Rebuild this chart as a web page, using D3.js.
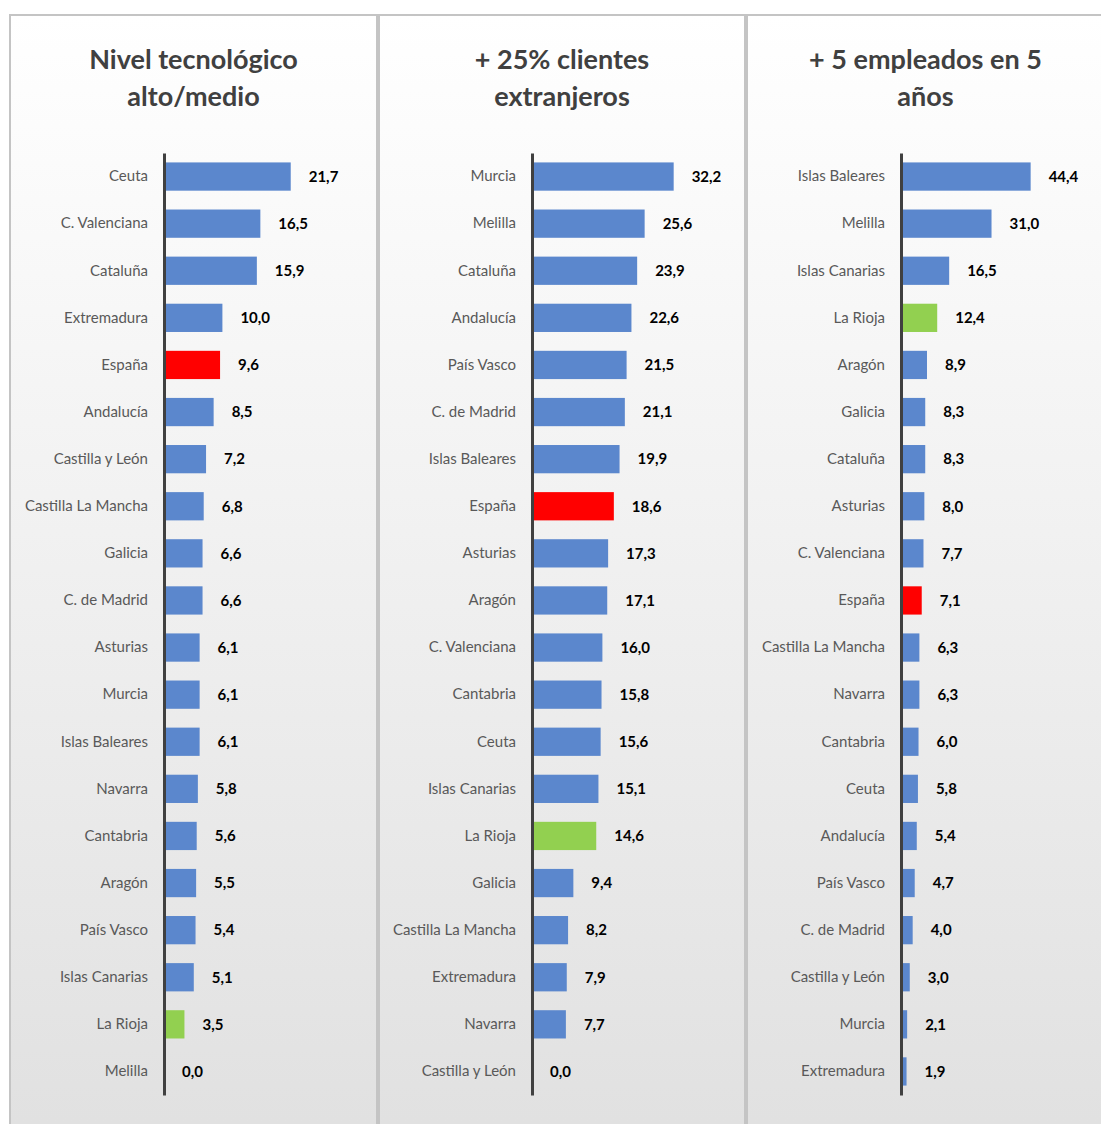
<!DOCTYPE html>
<html><head><meta charset="utf-8">
<script src="https://cdn.jsdelivr.net/npm/d3@7/dist/d3.min.js"></script>
<style>body{margin:0;background:#fff}svg{display:block}</style>
</head><body>
<script>
const titles1 = ["Nivel tecnológico", "alto/medio"];
const cats1 = ["Ceuta","C. Valenciana","Cataluña","Extremadura","España","Andalucía","Castilla y León","Castilla La Mancha","Galicia","C. de Madrid","Asturias","Murcia","Islas Baleares","Navarra","Cantabria","Aragón","País Vasco","Islas Canarias","La Rioja","Melilla"];
const vals1 = [21.7,16.5,15.9,10.0,9.6,8.5,7.2,6.8,6.6,6.6,6.1,6.1,6.1,5.8,5.6,5.5,5.4,5.1,3.5,0.0];

const titles2 = ["+ 25% clientes", "extranjeros"];
const cats2 = ["Murcia","Melilla","Cataluña","Andalucía","País Vasco","C. de Madrid","Islas Baleares","España","Asturias","Aragón","C. Valenciana","Cantabria","Ceuta","Islas Canarias","La Rioja","Galicia","Castilla La Mancha","Extremadura","Navarra","Castilla y León"];
const vals2 = [32.2,25.6,23.9,22.6,21.5,21.1,19.9,18.6,17.3,17.1,16.0,15.8,15.6,15.1,14.6,9.4,8.2,7.9,7.7,0.0];

const titles3 = ["+ 5 empleados en 5", "años"];
const cats3 = ["Islas Baleares","Melilla","Islas Canarias","La Rioja","Aragón","Galicia","Cataluña","Asturias","C. Valenciana","España","Castilla La Mancha","Navarra","Cantabria","Ceuta","Andalucía","País Vasco","C. de Madrid","Castilla y León","Murcia","Extremadura"];
const vals3 = [44.4,31.0,16.5,12.4,8.9,8.3,8.3,8.0,7.7,7.1,6.3,6.3,6.0,5.8,5.4,4.7,4.0,3.0,2.1,1.9];

const W = 1101, H = 1124;
const svg = d3.select("body").append("svg").attr("width", W).attr("height", H);
const defs = svg.append("defs");
const grad = defs.append("linearGradient").attr("id","bg").attr("x1",0).attr("y1",0).attr("x2",0).attr("y2",1);
grad.append("stop").attr("offset","0%").attr("stop-color","#ffffff");
grad.append("stop").attr("offset","100%").attr("stop-color","#e0e0e0");

const panels = [
  {titles: titles1, cats: cats1, vals: vals1, x0: 10, x1: 377, axisX: 164, max: 25, width: 146},
  {titles: titles2, cats: cats2, vals: vals2, x0: 379, x1: 745, axisX: 532, max: 35, width: 154},
  {titles: titles3, cats: cats3, vals: vals3, x0: 747, x1: 1104, axisX: 901, max: 50, width: 146}
];

const fontFam = "Lato, 'Open Sans', sans-serif";

function colorFor(c){
  if (c === "España") return "#ff0000";
  if (c === "La Rioja") return "#92d050";
  return "#5b87cd";
}
function fmt(v){ return d3.format(".1f")(v).replace(".", ","); }

panels.forEach(p => {
  const g = svg.append("g");
  g.append("rect").attr("x", p.x0).attr("y", 15).attr("width", p.x1 - p.x0).attr("height", H + 20)
    .attr("fill", "url(#bg)").attr("stroke", "#c4c4c4").attr("stroke-width", 2);

  const cx = (p.x0 + p.x1) / 2;
  const tt = g.append("text").attr("text-anchor","middle").attr("font-family", fontFam)
    .attr("font-weight","bold").attr("font-size", 27).attr("fill","#404040");
  p.titles.forEach((t,i) => tt.append("tspan").attr("x", cx).attr("y", 69 + i*37).text(t));

  const y = d3.scaleBand().domain(p.cats).range([153, 1095]).paddingInner(0.4).paddingOuter(0.2);
  const x = d3.scaleLinear().domain([0, p.max]).range([p.axisX, p.axisX + p.width]);

  g.selectAll("rect.bar").data(p.cats).enter().append("rect").attr("class","bar")
    .attr("x", x(0) + 1).attr("y", d => y(d))
    .attr("width", (d,i) => Math.max(0, x(p.vals[i]) - x(0) - 1))
    .attr("height", y.bandwidth())
    .attr("fill", d => colorFor(d));

  g.selectAll("text.val").data(p.cats).enter().append("text").attr("class","val")
    .attr("x", (d,i) => x(p.vals[i]) + 18).attr("y", d => y(d) + y.bandwidth()/2)
    .attr("dy","0.35em").attr("font-family", fontFam).attr("font-weight","bold")
    .attr("font-size", 15).attr("fill","#000").text((d,i) => fmt(p.vals[i]));

  const axis = d3.axisLeft(y).tickSize(0).tickPadding(16);
  const ag = g.append("g").attr("transform", `translate(${p.axisX},0)`).call(axis);
  ag.select(".domain").attr("stroke","#404040").attr("stroke-width",3);
  ag.selectAll("text").attr("font-family", fontFam).attr("font-size", 15).attr("fill","#595959");
});
</script>
</body></html>
